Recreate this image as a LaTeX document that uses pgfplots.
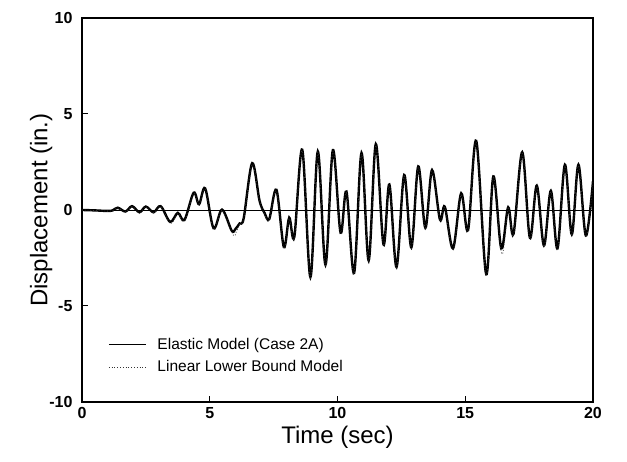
\documentclass[border=0pt]{standalone}
\usepackage{fontspec}
\setmainfont{Liberation Sans}
\usepackage{pgfplots}
\pgfplotsset{compat=1.18}
\usepackage{pgfplotstable}
\pgfplotstableread{
t d
0 0
0.5 -0.02
1.0 -0.05
1.2 -0.02
1.4 0.12
1.7 -0.08
1.96 0.2
2.25 -0.12
2.5 0.18
2.8 -0.12
3.08 0.2
3.45 -0.62
3.75 -0.15
4.01 -0.52
4.37 0.9
4.58 0.3
4.82 1.13
5.15 -0.95
5.48 0.02
5.86 -1.08
6.0 -1.0
6.17 -0.7
6.33 -0.42
6.66 2.44
6.95 0.48
7.15 -0.17
7.33 -0.47
7.61 1.05
7.9 -1.93
8.11 -0.4
8.31 -1.4
8.62 3.14
8.94 -3.49
9.23 3.05
9.53 -2.85
9.82 3.12
10.12 -1.18
10.35 0.96
10.65 -3.28
10.94 2.97
11.22 -2.63
11.5 3.43
11.8 -1.8
12.03 1.33
12.31 -2.97
12.61 1.82
12.89 -1.95
13.16 2.27
13.44 -0.93
13.7 2.08
14.01 -0.5
14.2 0.17
14.52 -2.0
14.84 0.87
15.11 -1.05
15.43 3.6
15.82 -3.34
16.1 1.75
16.41 -2.0
16.68 0.14
16.89 -1.24
17.23 3.01
17.53 -1.45
17.8 1.27
18.08 -1.85
18.35 1.0
18.61 -2.0
18.9 2.36
19.17 -1.27
19.43 2.36
19.72 -1.33
20 1.5
}\elasticdata
\pgfplotstableread{
t d
0 0
0.5 -0.03
1.0 -0.06
1.2 -0.03
1.4 0.1
1.7 -0.1
1.96 0.18
2.25 -0.14
2.5 0.16
2.8 -0.14
3.08 0.18
3.47 -0.7
3.75 -0.18
4.01 -0.58
4.37 0.86
4.58 0.26
4.82 1.08
5.15 -1.0
5.48 -0.02
5.92 -1.3
6.05 -1.1
6.17 -0.75
6.33 -0.45
6.66 2.38
6.95 0.44
7.15 -0.22
7.33 -0.52
7.61 1.0
7.9 -2.0
8.11 -0.45
8.31 -1.46
8.62 3.08
8.94 -3.55
9.23 3.0
9.53 -2.92
9.82 3.06
10.12 -1.24
10.35 0.9
10.65 -3.34
10.94 2.9
11.22 -2.7
11.5 3.36
11.8 -1.86
12.03 1.27
12.31 -3.03
12.61 1.76
12.89 -2.02
13.16 2.2
13.44 -1.0
13.7 2.02
14.01 -0.56
14.2 0.12
14.52 -2.08
14.84 0.8
15.11 -1.12
15.43 3.52
15.82 -3.42
16.1 1.68
16.43 -2.3
16.68 0.08
16.89 -1.3
17.23 2.94
17.53 -1.52
17.8 1.2
18.08 -1.92
18.35 0.94
18.61 -2.08
18.9 2.3
19.17 -1.34
19.43 2.3
19.72 -1.4
20 1.44
}\lowerbounddata
\begin{document}
\begin{tikzpicture}
\begin{axis}[
  name=ax,
  scale only axis,
  width=511pt, height=384pt,
  xmin=0, xmax=20, ymin=-10, ymax=10,
  xtick={0,5,10,15,20}, ytick={-10,-5,0,5,10},
  xtick pos=left, ytick pos=left,
  tick align=inside,
  major tick length=6pt,
  axis line style={line width=1.2pt},
  every tick/.style={line width=1pt, black},
  /pgf/number format/assume math mode=true,
  tick label style={font=\fontsize{16}{18}\selectfont\bfseries},
  yticklabel style={xshift=-6pt},
  xticklabel style={yshift=-2pt},
  xlabel={Time (sec)},
  ylabel={Displacement (in.)},
  label style={font=\fontsize{24}{28}\selectfont},
  xlabel style={at={(axis description cs:0.5,-0.091)}, anchor=center},
  ylabel style={at={(axis description cs:-0.080,0.5)}, anchor=center},
  legend style={at={(axis description cs:0.045,0.178)}, anchor=north west,
    draw=none, fill=none, font=\fontsize{15.5}{19}\selectfont,
    row sep=6pt, column sep=9pt},
  legend cell align=left,
  legend image code/.code={\draw[#1] (0pt,0pt) -- (37pt,0pt);},
]
\addplot[black, line width=0.6pt, forget plot] coordinates {(0,0) (20,0)};
\addplot[black, line width=2.4pt, smooth, tension=0.55, legend image post style={line width=1.3pt}] table[x=t,y=d] {\elasticdata};
\addlegendentry{Elastic Model (Case 2A)}
\addplot[black!80, line width=0.8pt, dotted, smooth, tension=0.55] table[x=t,y=d] {\lowerbounddata};
\addlegendentry{Linear Lower Bound Model}
\end{axis}
\path ([xshift=-82pt,yshift=-60pt]ax.south west) rectangle ([xshift=34pt,yshift=18pt]ax.north east);
\end{tikzpicture}
\end{document}
